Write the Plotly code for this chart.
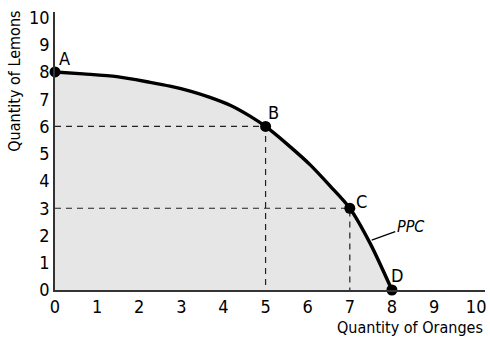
import plotly.graph_objects as go

# PPC curve points
curve_x = [0, 0.67, 1.47, 2.26, 2.73, 3.21, 3.68, 4.16, 4.63, 5, 5.58, 6.06, 6.53, 7, 7.48, 8]
curve_y = [8, 7.93, 7.83, 7.62, 7.48, 7.30, 7.07, 6.78, 6.38, 6, 5.26, 4.59, 3.82, 3, 1.72, 0]

# labelled points
pt_labels = ["A", "B", "C", "D"]
pt_x = [0, 5, 7, 8]
pt_y = [8, 6, 3, 0]

ticks = list(range(0, 11))

FONT = "Liberation Sans Narrow, DejaVu Sans Condensed, Arial Narrow, sans-serif"

fig = go.Figure()

# shaded area under the PPC
fig.add_trace(go.Scatter(x=curve_x, y=curve_y, mode="lines",
                         line=dict(color="rgba(0,0,0,0)", shape="spline", smoothing=0.8),
                         fill="tozeroy", fillcolor="#e6e6e6", hoverinfo="skip", showlegend=False))

# dashed guides for B and C
for lx, ly in [(pt_x[1], pt_y[1]), (pt_x[2], pt_y[2])]:
    fig.add_trace(go.Scatter(x=[0, lx, lx], y=[ly, ly, 0], mode="lines",
                             line=dict(color="#222222", width=1.2, dash="6px,5px"),
                             showlegend=False, hoverinfo="skip"))

# PPC curve
fig.add_trace(go.Scatter(x=curve_x, y=curve_y, mode="lines",
                         line=dict(color="black", width=3.4, shape="spline", smoothing=0.8),
                         showlegend=False))

# points
fig.add_trace(go.Scatter(x=pt_x, y=pt_y, mode="markers",
                         marker=dict(color="black", size=11), showlegend=False, cliponaxis=False))

label_off = {"A": (9, -13), "B": (8, -14), "C": (12, -7), "D": (5, -15)}
for lab, px, py in zip(pt_labels, pt_x, pt_y):
    dx, dy = label_off[lab]
    fig.add_annotation(x=px, y=py, text=lab, showarrow=False, xshift=dx, yshift=-dy,
                       font=dict(family=FONT, size=18, color="black"))

# PPC label with leader line
fig.add_annotation(x=7.52, y=1.83, text="<i>PPC</i>", showarrow=True, arrowhead=0, arrowwidth=1.2,
                   arrowcolor="black", ax=39, ay=-14, font=dict(family=FONT, size=16, color="black"))

# axis titles
fig.add_annotation(xref="paper", yref="paper", x=-0.093, y=1.01, text="Quantity of Lemons",
                   textangle=-90, showarrow=False, xanchor="center", yanchor="top",
                   font=dict(family=FONT, size=16, color="black"))
fig.add_annotation(xref="paper", yref="paper", x=1.0, y=-0.095, text="Quantity of Oranges",
                   showarrow=False, xanchor="right", yanchor="top",
                   font=dict(family=FONT, size=16, color="black"))

fig.update_layout(
    width=490, height=346, margin=dict(l=55, r=5, t=12, b=56),
    plot_bgcolor="white", paper_bgcolor="white",
    xaxis=dict(range=[0, 10.21], tickvals=ticks, showgrid=False, zeroline=False,
               showline=True, linecolor="#333333", linewidth=1.5, ticks="", ticklen=0,
               tickfont=dict(family=FONT, size=18, color="black")),
    yaxis=dict(range=[0, 10.2], tickvals=ticks, showgrid=False, zeroline=False,
               showline=True, linecolor="#333333", linewidth=1.5, ticks="", ticklen=0,
               tickfont=dict(family=FONT, size=18, color="black")),
)

fig.write_html("out.html")
